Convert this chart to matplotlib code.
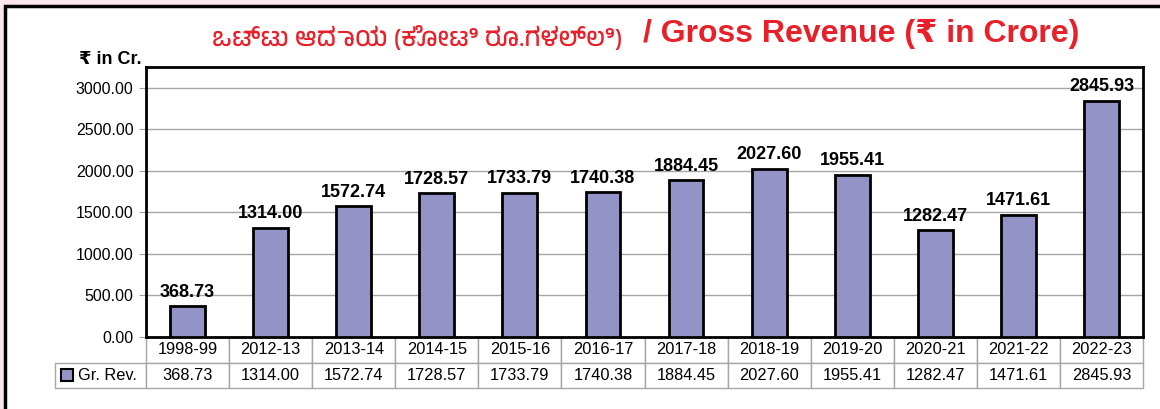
import matplotlib
matplotlib.use('Agg')
import matplotlib.pyplot as plt
from matplotlib import font_manager
from matplotlib.patches import Rectangle

years = ['1998-99', '2012-13', '2013-14', '2014-15', '2015-16', '2016-17',
         '2017-18', '2018-19', '2019-20', '2020-21', '2021-22', '2022-23']
revenue = [368.73, 1314.00, 1572.74, 1728.57, 1733.79, 1740.38,
           1884.45, 2027.60, 1955.41, 1282.47, 1471.61, 2845.93]
series_name = 'Gr. Rev.'
title_kn = 'ಒಟ್ಟು ಆದಾಯ (ಕೋಟಿ ರೂ.ಗಳಲ್ಲಿ)'
title_en = '/ Gross Revenue (₹ in Crore)'
unit_label = '₹ in Cr.'

bar_color = '#9393c8'
red = '#e8202a'

# look for any installed font that covers Kannada
kn_fonts = [f.name for f in font_manager.fontManager.ttflist if 'kannada' in f.name.lower()]
base = ['Liberation Sans', 'DejaVu Sans']
plt.rcParams['font.family'] = base

W, H = 1160, 409
fig = plt.figure(figsize=(W / 100, H / 100), dpi=100)
fig.patch.set_facecolor('#fce6ee')

# white frame with black border
fig.patches.append(Rectangle((5 / W, -0.1), 1.2, 1.1 - 6 / H, transform=fig.transFigure,
                             facecolor='white', edgecolor='black', linewidth=2.5, zorder=-10))

ax_l, ax_r, ax_t, ax_b = 146, 1143, 67, 337
ax = fig.add_axes([ax_l / W, 1 - ax_b / H, (ax_r - ax_l) / W, (ax_b - ax_t) / H])
ax.set_facecolor('white')

x = range(len(years))
bars = ax.bar(x, revenue, width=0.42, color=bar_color, edgecolor='black', linewidth=2, zorder=3)
ax.bar_label(bars, labels=[f'{v:.2f}' for v in revenue], padding=4,
             fontsize=13, fontweight='bold', zorder=4)

ax.set_xlim(-0.5, len(years) - 0.5)
ax.set_ylim(0, 3250)
ax.set_yticks([0, 500, 1000, 1500, 2000, 2500, 3000])
ax.set_yticklabels([f'{v:.2f}' for v in [0, 500, 1000, 1500, 2000, 2500, 3000]], fontsize=11.5)
ax.set_xticks([])
ax.tick_params(axis='y', length=5, color='#a0a0a0', pad=4)
ax.yaxis.grid(True, color='#a6a6a6', linewidth=1, zorder=0)
ax.set_axisbelow(True)
for s in ax.spines.values():
    s.set_color('black')
    s.set_linewidth(2)

# data table under the chart
cell_text = [[''] + years, [series_name] + [f'{v:.2f}' for v in revenue]]
tb_left = (55 - ax_l) / (ax_r - ax_l)
tb_h = (388 - ax_b) / (ax_b - ax_t)
tbl = ax.table(cellText=cell_text, cellLoc='center',
               bbox=[tb_left, -tb_h, 1 - tb_left, tb_h])
tbl.auto_set_font_size(False)
tbl.set_fontsize(11.8)
for (r, c), cell in tbl.get_celld().items():
    cell.set_edgecolor('#a6a6a6')
    cell.set_linewidth(1)
    cell.set_width(91 if c == 0 else (ax_r - ax_l) / len(years))
    if r == 0 and c == 0:
        cell.visible_edges = 'open'
    if r == 1 and c == 0:
        cell._loc = 'right'
        cell.get_text().set_ha('right')

# legend key in the table row header
ax.plot([(67 - ax_l) / (ax_r - ax_l)], [-(375 - ax_b) / (ax_b - ax_t)], marker='s',
        markersize=8, markerfacecolor=bar_color, markeredgecolor='black',
        markeredgewidth=1.5, transform=ax.transAxes, clip_on=False, zorder=10)

# axis unit label
fig.text(142 / W, 1 - 60 / H, unit_label, ha='right', va='center',
         fontsize=13, fontweight='bold')

# title
fig.text(417 / W, 1 - 37 / H, title_kn, ha='center', va='center', color=red,
         fontsize=18.5, fontweight='bold', family=kn_fonts[:1] + base)
fig.text(643 / W, 1 - 34 / H, title_en, ha='left', va='center', color=red,
         fontsize=23, fontweight='bold')

fig.savefig('out.png', dpi=100, facecolor=fig.get_facecolor())
